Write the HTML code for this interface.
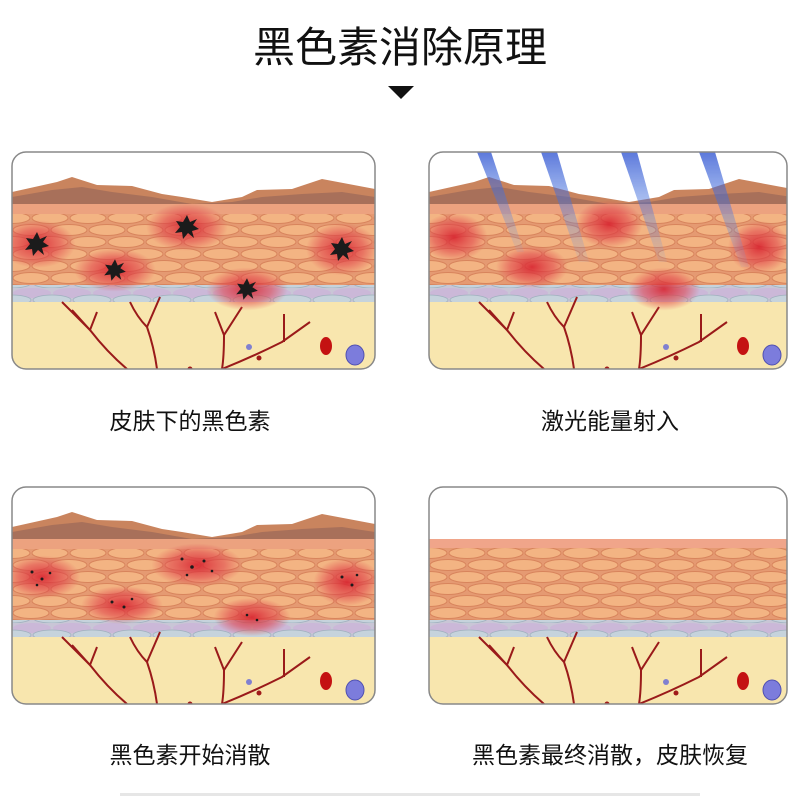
<!DOCTYPE html>
<html><head><meta charset="utf-8"><style>
html,body{margin:0;padding:0;background:#fff;width:800px;height:800px;overflow:hidden}
text{font-family:"Liberation Sans","Noto Sans CJK SC",sans-serif}
</style></head><body>
<svg width="800" height="800" viewBox="0 0 800 800" xmlns="http://www.w3.org/2000/svg">
<defs>
<pattern id="cells" width="38" height="24" patternUnits="userSpaceOnUse">
<rect width="38" height="24" fill="#e59a72"/>
<ellipse cx="19" cy="6" rx="18" ry="5.5" fill="#f3b483" stroke="#d8845c" stroke-width="1"/>
<ellipse cx="0" cy="18" rx="18" ry="5.5" fill="#f3b483" stroke="#d8845c" stroke-width="1"/>
<ellipse cx="38" cy="18" rx="18" ry="5.5" fill="#f3b483" stroke="#d8845c" stroke-width="1"/>
</pattern>
<pattern id="basal" width="40" height="17" patternUnits="userSpaceOnUse">
<rect width="40" height="17" fill="#c9c6d6"/>
<ellipse cx="20" cy="5" rx="19" ry="5" fill="#cbb8d8"/>
<ellipse cx="0" cy="12" rx="19" ry="5" fill="#c6d3dc" stroke="#9fb0be" stroke-width="0.8"/>
<ellipse cx="40" cy="12" rx="19" ry="5" fill="#c6d3dc" stroke="#9fb0be" stroke-width="0.8"/>
</pattern>
<radialGradient id="red"><stop offset="0" stop-color="#d8232f" stop-opacity="0.9"/><stop offset="0.6" stop-color="#e04048" stop-opacity="0.55"/><stop offset="1" stop-color="#e04048" stop-opacity="0"/></radialGradient>
<linearGradient id="beam" x1="0" y1="0" x2="0" y2="1"><stop offset="0" stop-color="#2a4fd0" stop-opacity="0.9"/><stop offset="1" stop-color="#6aa0f0" stop-opacity="0.1"/></linearGradient>
<clipPath id="pc"><rect x="0" y="0" width="363" height="217" rx="14"/></clipPath>
<clipPath id="pc2"><rect x="0" y="0" width="358" height="217" rx="14"/></clipPath>
<g id="base">
<rect width="363" height="217" fill="#fff"/>
<rect y="60" width="363" height="75" fill="url(#cells)"/>
<rect y="133" width="363" height="17" fill="url(#basal)"/>
<rect y="150" width="363" height="67" fill="#f8e6ae"/>
<g fill="none" stroke="#9a1a1a" stroke-width="2">
<path d="M50 150 Q70 170 78 178 Q95 200 115 217"/><path d="M60 158 L78 178 L85 160"/>
<path d="M118 150 Q125 165 135 175 Q142 195 145 217"/><path d="M148 145 L135 175"/>
<path d="M203 160 L212 183 L230 155"/><path d="M212 183 Q212 205 210 217 Q240 205 270 190 L298 170"/><path d="M272 162 L272 190"/>
</g>
<circle cx="237" cy="195" r="3" fill="#8080d0"/><circle cx="247" cy="206" r="2.5" fill="#a01a1a"/><circle cx="178" cy="217" r="2.5" fill="#a01a1a"/>
<ellipse cx="314" cy="194" rx="6" ry="9" fill="#c41212"/>
<ellipse cx="343" cy="203" rx="9" ry="10" fill="#7c7cdc" stroke="#5050b0"/>
</g>
<g id="crust">
<path d="M0 40 L45 30 L60 25 L85 33 L120 34 L150 42 L170 45 L200 50 L230 45 L245 38 L280 37 L310 27 L363 37 L363 62 L0 62 Z" fill="#c9845e"/>
<path d="M0 45 L40 38 L70 35 L100 40 L140 45 L180 52 L220 50 L250 45 L290 42 L330 40 L363 45 L363 62 L0 62 Z" fill="#a8705a"/>
<rect y="52" width="363" height="10" fill="#eca27f"/>
</g>
<g id="spot"><circle r="24" fill="url(#red)"/></g>
<g id="mel"><polygon points="0,-12 3,-5 10,-8 6,-2 12,2 5,4 7,11 1,6 -4,12 -5,5 -12,6 -7,0 -11,-6 -4,-5" fill="#1b1b1b"/></g>
</defs>

<text x="400" y="62" font-size="42" text-anchor="middle" fill="#111">黑色素消除原理</text>
<polygon points="388,86 414,86 401,99" fill="#111"/>

<g transform="translate(12,152)">
<g clip-path="url(#pc)">
<use href="#base"/><use href="#crust"/>
<use href="#spot" transform="translate(25,92) scale(1.6,1)"/>
<use href="#spot" transform="translate(175,75) scale(1.7,1)"/>
<use href="#spot" transform="translate(330,97) scale(1.5,1.1)"/>
<use href="#spot" transform="translate(103,118) scale(1.7,0.9)"/>
<use href="#spot" transform="translate(235,137) scale(1.7,0.9)"/>
<use href="#mel" transform="translate(25,92)"/><use href="#mel" transform="translate(175,75)"/>
<use href="#mel" transform="translate(330,97)"/><use href="#mel" transform="translate(103,118) scale(0.9)"/>
<use href="#mel" transform="translate(235,137) scale(0.9)"/>
</g>
<rect x="0" y="0" width="363" height="217" rx="14" fill="none" stroke="#888" stroke-width="1.5"/>
</g>

<g transform="translate(429,152)">
<g clip-path="url(#pc2)">
<use href="#base"/><use href="#crust"/>
<use href="#spot" transform="translate(25,85) scale(1.4,1)"/>
<use href="#spot" transform="translate(180,72) scale(1.4,1)"/>
<use href="#spot" transform="translate(330,95) scale(1.3,1.1)"/>
<use href="#spot" transform="translate(103,115) scale(1.5,0.9)"/>
<use href="#spot" transform="translate(235,137) scale(1.5,0.9)"/>
<g opacity="0.85">
<polygon points="48,0 62,0 95,100 88,100" fill="url(#beam)"/>
<polygon points="112,0 128,0 160,110 150,110" fill="url(#beam)"/>
<polygon points="192,0 208,0 238,110 230,110" fill="url(#beam)"/>
<polygon points="270,0 286,0 320,115 312,115" fill="url(#beam)"/>
</g>
</g>
<rect x="0" y="0" width="358" height="217" rx="14" fill="none" stroke="#888" stroke-width="1.5"/>
</g>

<g transform="translate(12,487)">
<g clip-path="url(#pc)">
<use href="#base"/><use href="#crust"/>
<use href="#spot" transform="translate(30,90) scale(1.6,0.9)"/>
<use href="#spot" transform="translate(185,78) scale(1.9,0.9)"/>
<use href="#spot" transform="translate(335,95) scale(1.4,1)"/>
<use href="#spot" transform="translate(110,118) scale(1.7,0.8)"/>
<use href="#spot" transform="translate(240,130) scale(1.6,0.8)"/>
<g fill="#1b1b1b">
<circle cx="20" cy="85" r="1.5"/><circle cx="30" cy="92" r="1.5"/><circle cx="38" cy="86" r="1.3"/><circle cx="25" cy="98" r="1.3"/>
<circle cx="170" cy="72" r="1.5"/><circle cx="180" cy="80" r="1.8"/><circle cx="192" cy="74" r="1.5"/><circle cx="200" cy="84" r="1.3"/><circle cx="175" cy="88" r="1.3"/>
<circle cx="330" cy="90" r="1.5"/><circle cx="340" cy="98" r="1.5"/><circle cx="345" cy="88" r="1.3"/>
<circle cx="100" cy="115" r="1.5"/><circle cx="112" cy="120" r="1.5"/><circle cx="120" cy="112" r="1.3"/>
<circle cx="235" cy="128" r="1.3"/><circle cx="245" cy="133" r="1.3"/>
</g>
</g>
<rect x="0" y="0" width="363" height="217" rx="14" fill="none" stroke="#888" stroke-width="1.5"/>
</g>

<g transform="translate(429,487)">
<g clip-path="url(#pc2)">
<use href="#base"/>
<rect y="52" width="363" height="9" fill="#f0a58a"/>
</g>
<rect x="0" y="0" width="358" height="217" rx="14" fill="none" stroke="#888" stroke-width="1.5"/>
</g>

<g font-size="23" fill="#111" text-anchor="middle">
<text x="190" y="429">皮肤下的黑色素</text>
<text x="610" y="429">激光能量射入</text>
<text x="190" y="763">黑色素开始消散</text>
<text x="610" y="763">黑色素最终消散，皮肤恢复</text>
</g>
<rect x="120" y="793" width="580" height="3" fill="#e6e6e6"/>
</svg>
</body></html>
